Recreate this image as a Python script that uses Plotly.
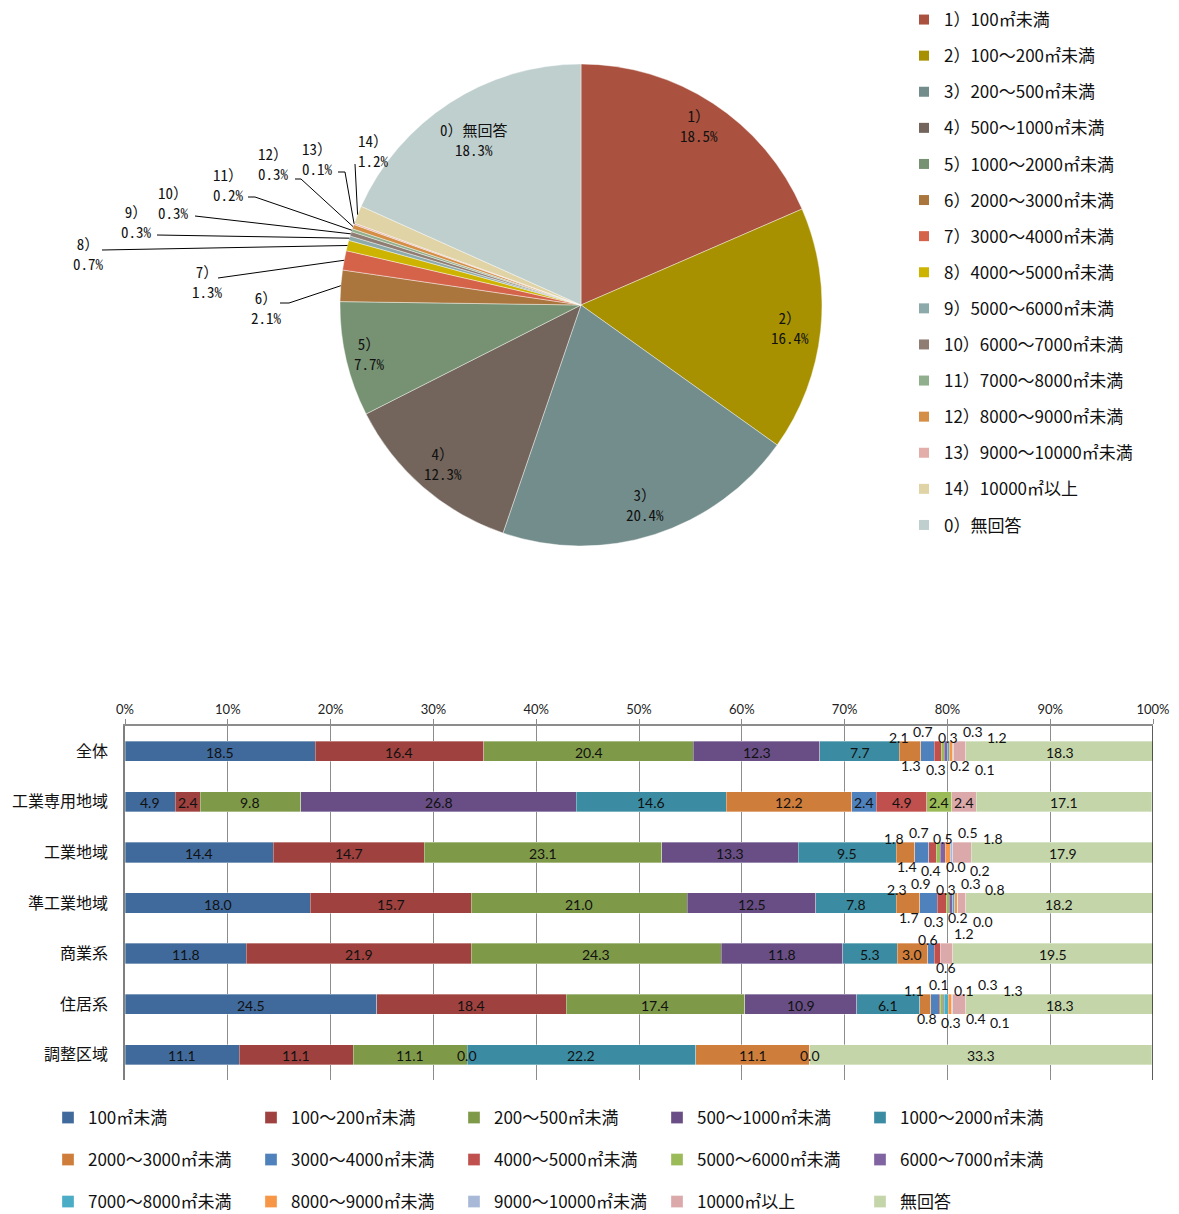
import math
import plotly.graph_objects as go

W, H = 1179, 1214
OFF = 8                      # page body margin added by the browser
FW, FH = W - OFF, H - OFF    # figure size so that the page fits the window exactly

# ---------------- data: pie ----------------
pie_labels = ["1）100㎡未満", "2）100～200㎡未満", "3）200～500㎡未満", "4）500～1000㎡未満",
              "5）1000～2000㎡未満", "6）2000～3000㎡未満", "7）3000～4000㎡未満",
              "8）4000～5000㎡未満", "9）5000～6000㎡未満", "10）6000～7000㎡未満",
              "11）7000～8000㎡未満", "12）8000～9000㎡未満", "13）9000～10000㎡未満",
              "14）10000㎡以上", "0）無回答"]
pie_short = ["1）", "2）", "3）", "4）", "5）", "6）", "7）", "8）", "9）", "10）",
             "11）", "12）", "13）", "14）", "0）無回答"]
pie_values = [18.5, 16.4, 20.4, 12.3, 7.7, 2.1, 1.3, 0.7, 0.3, 0.3, 0.2, 0.3, 0.1, 1.2, 18.3]
pie_colors = ["#AA523F", "#A79100", "#738D8C", "#73655B", "#769272", "#AA763D", "#D5634A",
              "#CDB400", "#8DAAAA", "#8F7D74", "#90AF8C", "#D48E46", "#E3AEAA", "#E0D4A6",
              "#BFCFCE"]

# ---------------- data: stacked bars ----------------
categories = ["全体", "工業専用地域", "工業地域", "準工業地域", "商業系", "住居系", "調整区域"]
series_names = ["100㎡未満", "100～200㎡未満", "200～500㎡未満", "500～1000㎡未満",
                "1000～2000㎡未満", "2000～3000㎡未満", "3000～4000㎡未満", "4000～5000㎡未満",
                "5000～6000㎡未満", "6000～7000㎡未満", "7000～8000㎡未満", "8000～9000㎡未満",
                "9000～10000㎡未満", "10000㎡以上", "無回答"]
s_lt100 = [18.5, 4.9, 14.4, 18.0, 11.8, 24.5, 11.1]
s_100_200 = [16.4, 2.4, 14.7, 15.7, 21.9, 18.4, 11.1]
s_200_500 = [20.4, 9.8, 23.1, 21.0, 24.3, 17.4, 11.1]
s_500_1000 = [12.3, 26.8, 13.3, 12.5, 11.8, 10.9, 0.0]
s_1000_2000 = [7.7, 14.6, 9.5, 7.8, 5.3, 6.1, 22.2]
s_2000_3000 = [2.1, 12.2, 1.8, 2.3, 3.0, 1.1, 11.1]
s_3000_4000 = [1.3, 2.4, 1.4, 1.7, 0.6, 0.8, 0.0]
s_4000_5000 = [0.7, 4.9, 0.7, 0.9, 0.6, 0.1, None]
s_5000_6000 = [0.3, 2.4, 0.4, 0.3, None, 0.3, None]
s_6000_7000 = [0.3, None, 0.5, 0.3, None, 0.1, None]
s_7000_8000 = [0.2, None, 0.0, 0.2, None, 0.4, None]
s_8000_9000 = [0.3, None, 0.5, 0.3, None, 0.3, None]
s_9000_10000 = [0.1, None, 0.2, 0.0, None, 0.1, None]
s_ge10000 = [1.2, 2.4, 1.8, 0.8, 1.2, 1.3, None]
s_noans = [18.3, 17.1, 17.9, 18.2, 19.5, 18.3, 33.3]
series_values = [s_lt100, s_100_200, s_200_500, s_500_1000, s_1000_2000, s_2000_3000,
                 s_3000_4000, s_4000_5000, s_5000_6000, s_6000_7000, s_7000_8000,
                 s_8000_9000, s_9000_10000, s_ge10000, s_noans]
bar_colors = ["#406A9C", "#9F413E", "#7E9A49", "#684E85", "#3B8CA2", "#CF7D3A", "#4F81BD",
              "#C0504D", "#9BBB59", "#8064A2", "#4BACC6", "#F79646", "#A8B9D8", "#DBA9A9",
              "#C4D6A9"]
x_ticks = list(range(0, 101, 10))
x_ticktext = [f"{t}%" for t in x_ticks]

# ---------------- layout constants ----------------
JP = "Noto Sans CJK JP"
MONO = "Noto Sans Mono CJK JP, Noto Sans CJK JP, monospace"
NUM = "Lato, Open Sans, sans-serif"
PIE_CX, PIE_CY, PIE_R = 581, 305, 241


def px(x):
    return (x - OFF) / FW


def py(y):
    return 1 - (y - OFF) / FH


fig = go.Figure()

# ---------------- pie ----------------
fig.add_trace(go.Pie(
    values=pie_values, labels=pie_labels, sort=False, direction="clockwise", rotation=0,
    marker=dict(colors=pie_colors, line=dict(color="rgba(255,255,255,0.7)", width=0.6)),
    textinfo="none", hoverinfo="label+percent", showlegend=False,
    domain=dict(x=[px(PIE_CX - PIE_R), px(PIE_CX + PIE_R)],
                y=[py(PIE_CY + PIE_R), py(PIE_CY - PIE_R)]),
))

annotations = []
shapes = []

total = sum(pie_values)
cum = 0.0
# radial position (fraction of radius) of the inside labels
inside_r = {0: 0.89, 1: 0.87, 2: 0.87, 3: 0.87, 4: 0.90, 14: 0.82}
# outside-label placement (text centre, leader start, elbow length) for small slices
outside_pos = {
    5: ((266, 307), (280, 303), 9),
    6: ((207, 281), (218, 278), 0),
    7: ((88, 254), (102, 250), 0),
    8: ((136, 222), (157, 235), 0),
    9: ((173, 203), (195, 216), 0),
    10: ((228, 184), (248, 197), 7),
    11: ((273, 164), (295, 179), 6),
    12: ((317, 158), (338, 172), 7),
    13: ((373, 150), (355, 164), 0),
}
PIE_FONT = dict(family=MONO, size=15, color="#111")
for i, v in enumerate(pie_values):
    mid = (cum + v / 2) / total * 2 * math.pi
    cum += v
    sx, cy_ = math.sin(mid), math.cos(mid)
    text = f"{pie_short[i]}<br>{v:.1f}%"
    if i in inside_r:
        r = inside_r[i] * PIE_R
        annotations.append(dict(x=px(PIE_CX + r * sx), y=py(PIE_CY - r * cy_), xref="paper",
                                yref="paper", text=text, showarrow=False, font=PIE_FONT,
                                xanchor="center", yanchor="middle", align="center"))
    else:
        (tx, ty), (lx, ly), elbow = outside_pos[i]
        annotations.append(dict(x=px(tx), y=py(ty), xref="paper", yref="paper", text=text,
                                showarrow=False, font=PIE_FONT,
                                xanchor="center", yanchor="middle", align="center"))
        ex, ey = PIE_CX + PIE_R * sx, PIE_CY - PIE_R * cy_
        path = f"M {px(lx)},{py(ly)} L {px(lx + elbow)},{py(ly)} L {px(ex)},{py(ey)}"
        shapes.append(dict(type="path", path=path, xref="paper", yref="paper",
                           line=dict(color="black", width=1)))

# pie legend entries (one group per slice so the spacing can be controlled)
for i, (lab, col) in enumerate(zip(pie_labels, pie_colors)):
    fig.add_trace(go.Scatter(x=[None], y=[None], mode="markers", name=lab,
                             marker=dict(symbol="square", size=10, color=col),
                             legend="legend", legendgroup=f"p{i}", hoverinfo="skip"))

# ---------------- stacked bars ----------------
legend_ids = ["legend2"] * 5 + ["legend3"] * 5 + ["legend4"] * 5
for name, vals, col, lg in zip(series_names, series_values, bar_colors, legend_ids):
    fig.add_trace(go.Bar(
        y=categories, x=vals, name=name, orientation="h", width=0.4,
        marker=dict(color=col, line=dict(color="rgba(255,255,255,0.55)", width=0.6)),
        legend=lg, hovertemplate="%{y}: %{x:.1f}<extra>" + name + "</extra>",
    ))

LBL = dict(family=NUM, size=14, color="#111")
for r, cat in enumerate(categories):
    vals = [s[r] for s in series_values]
    starts = []
    c = 0.0
    for v in vals:
        starts.append(c)
        c += v if v is not None else 0.0
    small = [k for k, v in enumerate(vals) if v is not None and v < 2.35]
    has_small_nonzero = any(vals[k] > 0 for k in small)
    for k, v in enumerate(vals):
        if v is None or k in small:
            continue
        annotations.append(dict(x=starts[k] + v / 2, y=cat, xref="x", yref="y", text=f"{v:.1f}",
                                showarrow=False, font=LBL, yshift=-1))
    if has_small_nonzero:
        x0 = starts[small[0]] + vals[small[0]] / 2
        step, first = (12.3, -11) if len(small) > 4 else (18, -3)
        for j, k in enumerate(small):
            if j % 2 == 0:
                ys = 14 if (j // 2) % 2 == 0 else 20
            else:
                ys = -14 if (j // 2) % 2 == 0 else -18
            annotations.append(dict(x=x0, y=cat, xref="x", yref="y", text=f"{vals[k]:.1f}",
                                    showarrow=False, font=LBL, xshift=first + step * j,
                                    yshift=ys))
    else:
        for k in small:
            annotations.append(dict(x=starts[k], y=cat, xref="x", yref="y",
                                    text=f"{vals[k]:.1f}", showarrow=False, font=LBL, yshift=-1))

# dark frame line at the 100% end
shapes.append(dict(type="line", xref="x", yref="y domain", x0=100, x1=100, y0=0, y1=1,
                   line=dict(color="#262626", width=1.5)))

leg_common = dict(orientation="h", xanchor="left", yanchor="top", entrywidth=158,
                  entrywidthmode="pixels", traceorder="normal",
                  font=dict(family=JP, size=17, color="#111"), bgcolor="rgba(0,0,0,0)")

fig.update_layout(
    width=FW, height=FH, template="none",
    margin=dict(l=0, r=0, t=0, b=0, autoexpand=False),
    paper_bgcolor="white", plot_bgcolor="white",
    barmode="stack", bargap=0.6,
    xaxis=dict(domain=[px(125), px(1153)], range=[0, 100], side="top", tickvals=x_ticks,
               ticktext=x_ticktext, showgrid=True, gridcolor="#8c8c8c", gridwidth=1,
               showline=True, linecolor="#8c8c8c", linewidth=1.5, ticks="outside", ticklen=5,
               tickcolor="#8c8c8c", zeroline=False, automargin=False,
               tickfont=dict(family=NUM, size=13, color="#222"), fixedrange=True),
    yaxis=dict(domain=[py(1080), py(726)], type="category", categoryorder="array",
               categoryarray=categories, range=[6.5, -0.5], showline=True,
               linecolor="#7f7f7f", linewidth=1.5, showgrid=False, zeroline=False,
               ticks="", ticklabelstandoff=12, automargin=False,
               tickfont=dict(family=JP, size=16, color="#111"), fixedrange=True),
    legend=dict(orientation="v", x=px(904), y=py(2), xanchor="left", yanchor="top",
                traceorder="grouped", tracegroupgap=11,
                font=dict(family=JP, size=17, color="#111"), bgcolor="rgba(0,0,0,0)"),
    legend2=dict(x=px(48), y=py(1100), **leg_common),
    legend3=dict(x=px(48), y=py(1142), **leg_common),
    legend4=dict(x=px(48), y=py(1184), **leg_common),
    annotations=annotations,
    shapes=shapes,
    showlegend=True,
)

fig.write_html("out.html")
